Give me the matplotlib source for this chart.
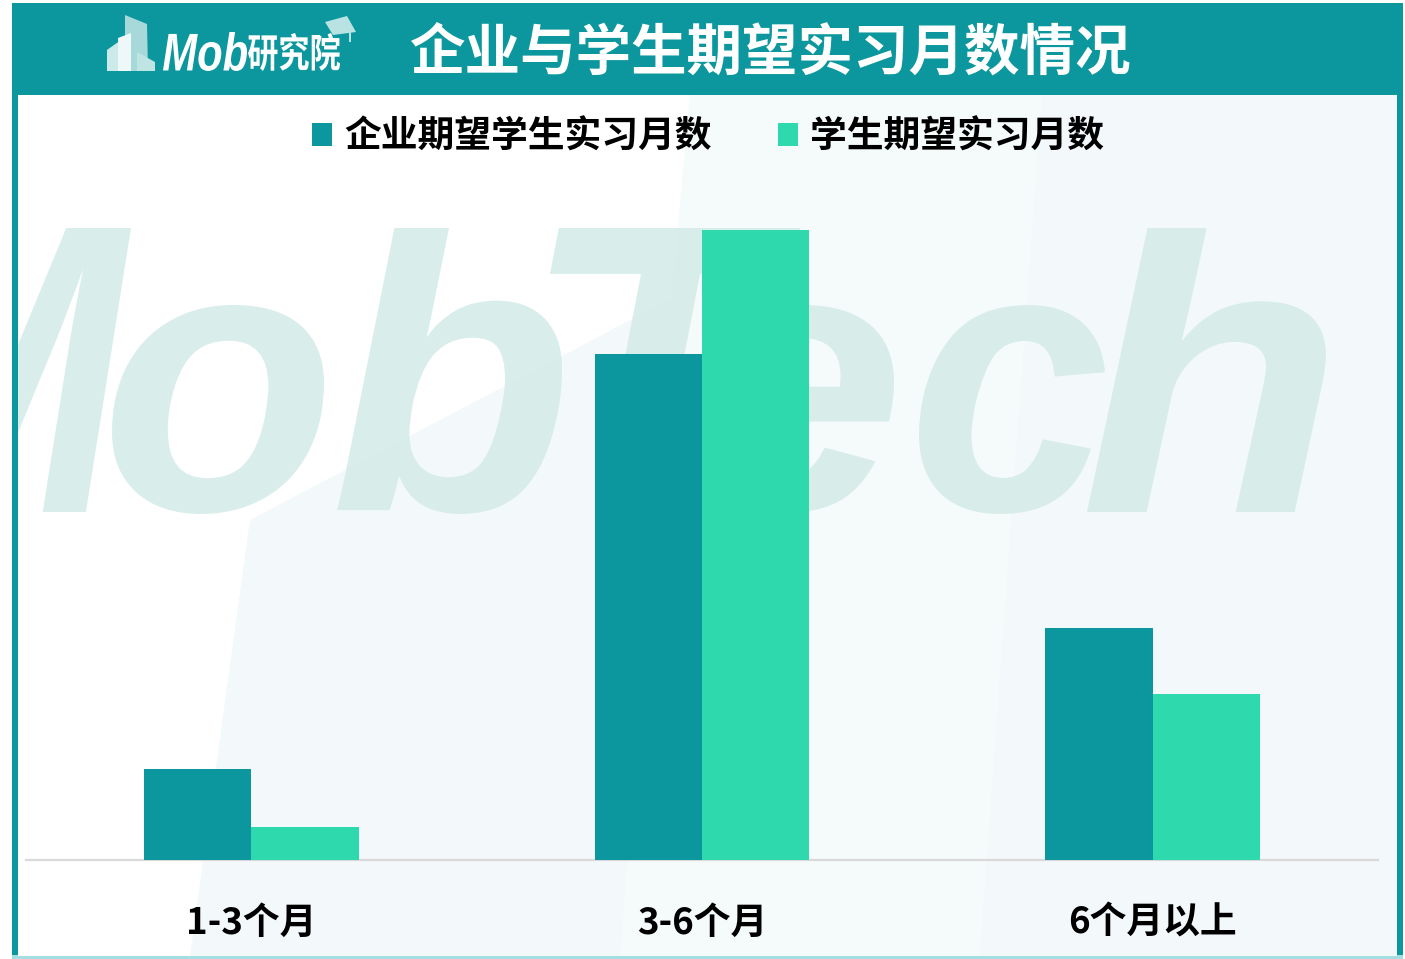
import matplotlib
matplotlib.use('Agg')
import matplotlib.pyplot as plt
import numpy as np
from matplotlib.patches import Rectangle, Polygon, PathPatch
from matplotlib.textpath import TextPath
from matplotlib.font_manager import FontProperties
from matplotlib.transforms import Affine2D, Bbox, TransformedBbox

# ---------------- data ----------------
categories = ['1-3个月', '3-6个月', '6个月以上']
enterprise_expect = [11, 61, 28]   # 企业期望学生实习月数 (%)
student_expect = [4, 76, 20]       # 学生期望实习月数 (%)
series_names = ['企业期望学生实习月数', '学生期望实习月数']
title_text = '企业与学生期望实习月数情况'
logo_latin = 'Mob'
logo_cjk = '研究院'
watermark = 'MobTech'

plt.rcParams['font.family'] = ['Noto Sans CJK SC', 'DejaVu Sans']

W, H = 1405, 959
TEAL = '#0b979d'
GREEN = '#2ed9ae'

fig = plt.figure(figsize=(W / 100, H / 100), dpi=100)
fig.patch.set_facecolor('white')


def px_rect(x0, y0, x1, y1, **kw):
    return Rectangle((x0 / W, 1 - y1 / H), (x1 - x0) / W, (y1 - y0) / H,
                     transform=fig.transFigure, **kw)


def px_poly(pts, **kw):
    return Polygon([(x / W, 1 - y / H) for x, y in pts], closed=True,
                   transform=fig.transFigure, **kw)


def fitted_text(s, prop, x0, x1, y_top, y_bot, color, zorder, clip=None, alpha=1.0):
    tp = TextPath((0, 0), s, prop=prop)
    bb = tp.get_extents()
    sx = (x1 - x0) / bb.width
    sy = (y_bot - y_top) / bb.height
    tr = (Affine2D().translate(-bb.x0, -bb.y0).scale(sx / W, sy / H)
          .translate(x0 / W, (H - y_bot) / H) + fig.transFigure)
    p = PathPatch(tp, transform=tr, fc=color, ec='none', zorder=zorder, alpha=alpha)
    if clip is not None:
        p.set_clip_box(clip)
    fig.add_artist(p)
    return p


# ---------------- frame ----------------
fig.add_artist(px_rect(12, 3, 1403, 959, fc=TEAL, ec='none', zorder=-20))
fig.add_artist(px_rect(12, 955, 1403, 959, fc='#a3dfe0', ec='none', zorder=-19.5))
fig.add_artist(px_rect(18, 95, 1397, 956, fc='white', ec='none', zorder=-19))

# faint background shapes
fig.add_artist(px_poly([(690, 95), (1397, 95), (1397, 956), (190, 956), (250, 520), (678, 295)],
                       fc='#f3f8fa', ec='none', zorder=-18))
fig.add_artist(px_poly([(690, 95), (1042, 95), (980, 956), (620, 956), (660, 420)],
                       fc='#f4fbfa', ec='none', zorder=-17.5))

# watermark "MobTech" drawn letter by letter
clipbox = TransformedBbox(Bbox([[18 / W, 1 - 956 / H], [1397 / W, 1 - 95 / H]]), fig.transFigure)
wm_prop = FontProperties(family='Liberation Sans', weight='bold', style='italic')
wm_boxes = [(-150, 131, 228, 512), (112, 324, 305, 514), (337, 562, 228, 514),
            (550, 800, 228, 512), (682, 894, 305, 514), (919, 1105, 305, 514),
            (1087, 1326, 228, 512)]
for ch, (x0, x1, yt, yb) in zip(watermark, wm_boxes):
    fitted_text(ch, wm_prop, x0, x1, yt, yb, '#d5ebe9', -15, clip=clipbox, alpha=0.9)

# ---------------- header ----------------
fig.text(770 / W, 1 - 54 / H, title_text, color='white', fontsize=40, fontweight='bold',
         ha='center', va='center', zorder=5)

# logo: building icon
fig.add_artist(px_poly([(125, 15), (147, 24), (148, 71), (125, 71)], fc='#a7d9da', ec='none', zorder=4))
fig.add_artist(px_poly([(107, 50), (121, 40), (121, 71), (107, 71)], fc='#cdeaea', ec='none', zorder=4))
fig.add_artist(px_poly([(118, 38), (131, 33), (131, 71), (118, 71)], fc='#eef8f8', ec='none', zorder=4.5))
fig.add_artist(px_poly([(137, 52), (155, 62), (155, 71), (137, 71)], fc='#bfe4e4', ec='none', zorder=4.6))
# graduation cap
fig.add_artist(px_poly([(325, 22), (347, 16), (356, 32), (333, 35)], fc='#b9e3e3', ec='none', zorder=4))
fig.add_artist(px_poly([(349, 29), (351, 29), (351, 42), (349, 42)], fc='#b9e3e3', ec='none', zorder=4))

fitted_text(logo_latin, FontProperties(family='Liberation Sans', weight='bold', style='italic'),
            163, 247, 32, 71, 'white', 5)
fitted_text(logo_cjk, FontProperties(family='Noto Sans CJK SC', weight='bold'),
            248, 340, 33, 71, 'white', 5)

# ---------------- chart ----------------
ax = fig.add_axes([26 / W, (H - 860) / H, (1378 - 26) / W, 660 / H])
ax.set_facecolor('none')
x = np.arange(len(categories))
w = 0.238
b1 = ax.bar(x - w / 2, enterprise_expect, w, color=TEAL, label=series_names[0], zorder=3)
b2 = ax.bar(x + w / 2, student_expect, w, color=GREEN, label=series_names[1], zorder=3)
ax.set_xlim(-0.5, 2.5)
ax.set_ylim(0, 79.62)
for s in ['top', 'right', 'left']:
    ax.spines[s].set_visible(False)
ax.spines['bottom'].set_color('#d9d9d9')
ax.spines['bottom'].set_linewidth(1.6)
ax.set_yticks([])
ax.set_xticks(x)
ax.set_xticklabels(categories, fontsize=26.5, fontweight='bold', color='black')
ax.tick_params(axis='x', length=0, pad=32)

fig.legend(handles=[b1, b2], labels=series_names, loc='center',
           bbox_to_anchor=(708 / W, 1 - 137 / H), ncol=2, frameon=False,
           prop=FontProperties(family='Noto Sans CJK SC', weight='bold', size=26.5),
           handlelength=0.56, handleheight=0.56, handletextpad=0.32,
           columnspacing=1.8, borderpad=0, borderaxespad=0)

fig.savefig('out.png', dpi=100)
